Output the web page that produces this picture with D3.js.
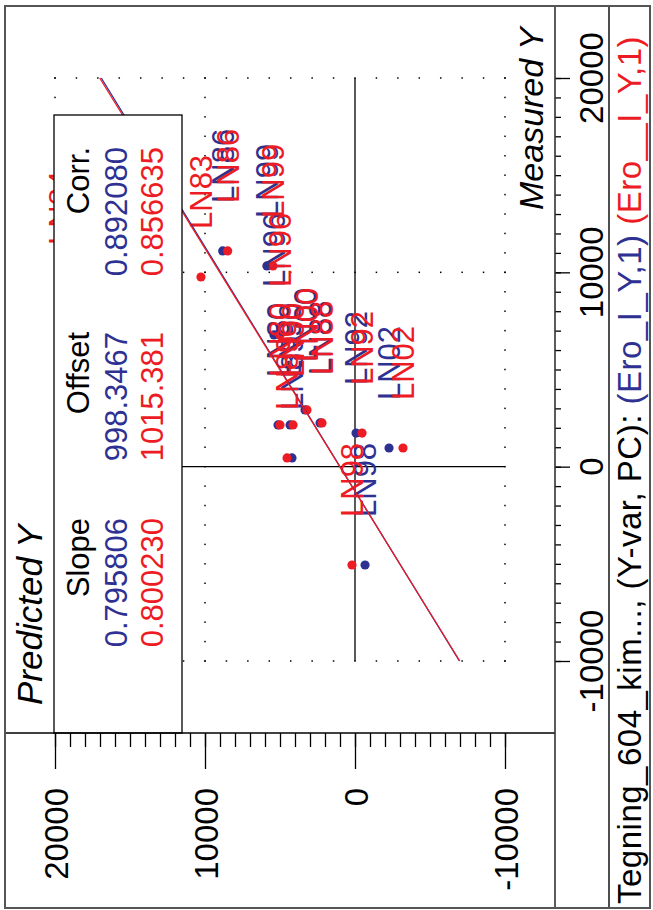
<!DOCTYPE html>
<html><head><meta charset="utf-8">
<script src="https://cdn.jsdelivr.net/npm/d3@7"></script>
<style>body{margin:0;background:#fff}svg{display:block}</style>
</head><body>
<script>
// ---- data ----
const sampleNames = ["LN84","LN83","LN86","LN99","LN96","LN00","LN80","LN90","LN88","LN89","LN92","LN02","LN98"];
const measuredY   = [8940, 9760, 11100, 10330, 6780, 2920, 2150, 2150, 2250, 450, 1730, 960, -5060];
const predBlue    = [18670, 12670, 8820, 5870, 5400, 3330, 5130, 4330, 2330, 4200, -70, -2270, -670];
const predRed     = [19670, 10270, 8490, 5470, 5000, 3200, 5000, 4130, 2200, 4530, -470, -3200, 200];
const seriesNames = ["(Ero_I_Y,1)", "(Ero__I_Y,1)"];
const slopes  = [0.795806, 0.800230];
const offsets = [998.3467, 1015.381];
const corrs   = [0.892080, 0.856635];
const slopeLabels  = ["0.795806", "0.800230"];
const offsetLabels = ["998.3467", "1015.381"];
const corrLabels   = ["0.892080", "0.856635"];
const majorTicks = [20000, 10000, 0, -10000];
const tickLabels = ["20000", "10000", "0", "-10000"];
const titleText = "Tegning_604_kim..., (Y-var, PC): ";

// ---- setup ----
const W = 653, H = 910;
const BLUE = "#2e3192", RED = "#ed1c24";
const FONT = "'Liberation Sans', Arial, Helvetica, sans-serif";
const svg = d3.select("body").append("svg").attr("width", W).attr("height", H)
  .style("font-family", FONT);

// predicted -> screen x (rotated chart), measured -> screen y
const xP = d3.scaleLinear().domain([20000, -10000]).range([55, 505]);
const yM = d3.scaleLinear().domain([20000, -10000]).range([78, 661]);

function rtext(g, x, y, txt, size, fill, anchor, style) {
  return g.append("text")
    .attr("transform", `translate(${x},${y}) rotate(-90)`)
    .attr("text-anchor", anchor || "start")
    .attr("font-size", size)
    .attr("font-style", style || "normal")
    .attr("fill", fill || "#000")
    .text(txt);
}

// ---- grid dots ----
const grid = svg.append("g");
const rowPred = d3.range(0, 22).map(i => 20000 - i * 30000 / 21);
const colMeas = d3.range(-10000, 20001, 1000);
[20000, 10000, -10000].forEach(m => {
  rowPred.forEach(p => grid.append("rect").attr("x", xP(p) - 0.75).attr("y", yM(m) - 0.75)
    .attr("width", 1.5).attr("height", 1.5).attr("fill", "#000"));
});
[20000, 10000, -10000].forEach(p => {
  colMeas.forEach(m => grid.append("rect").attr("x", xP(p) - 0.75).attr("y", yM(m) - 0.75)
    .attr("width", 1.5).attr("height", 1.5).attr("fill", "#000"));
});
// zero lines
grid.append("line").attr("x1", xP(20000)).attr("x2", xP(-10000)).attr("y1", yM(0)).attr("y2", yM(0))
  .attr("stroke", "#000").attr("stroke-width", 1.3);
grid.append("line").attr("x1", xP(0)).attr("x2", xP(0)).attr("y1", yM(20000)).attr("y2", yM(-10000))
  .attr("stroke", "#000").attr("stroke-width", 1.3);

// ---- points ----
const series = [
  {pred: predBlue, color: BLUE},
  {pred: predRed, color: RED}
];
const pts = svg.append("g");
series.forEach(s => {
  sampleNames.forEach((n, i) => {
    pts.append("circle").attr("cx", xP(s.pred[i])).attr("cy", yM(measuredY[i]))
      .attr("r", 4.6).attr("fill", s.color);
  });
});
series.forEach(s => {
  sampleNames.forEach((n, i) => {
    rtext(pts, xP(s.pred[i]) + 11, yM(measuredY[i]) - 48, n, 31, s.color, "start");
  });
});

// ---- regression lines ----
[0, 1].forEach(k => {
  const m0 = -10000, m1 = 20000;
  svg.append("line")
    .attr("x1", xP(slopes[k] * m0 + offsets[k])).attr("y1", yM(m0))
    .attr("x2", xP(slopes[k] * m1 + offsets[k])).attr("y2", yM(m1))
    .attr("stroke", k === 0 ? BLUE : RED).attr("stroke-width", 1.3);
});

// ---- legend box ----
const leg = svg.append("g");
leg.append("rect").attr("x", 54).attr("y", 115).attr("width", 128).attr("height", 618)
  .attr("fill", "#fff").attr("stroke", "#000").attr("stroke-width", 1.3);
const colEnds = [518, 332, 147];
const heads = ["Slope", "Offset", "Corr."];
heads.forEach((h, j) => rtext(leg, 89, colEnds[j], h, 31, "#000", "end"));
[slopeLabels, offsetLabels, corrLabels].forEach((arr, j) => {
  rtext(leg, 127, colEnds[j], arr[0], 31, BLUE, "end");
  rtext(leg, 163, colEnds[j], arr[1], 31, RED, "end");
});

// ---- axes ----
const minorP = d3.range(-10000, 20001, 1000);
const axP = svg.append("g").attr("transform", "translate(0,733)");
axP.call(d3.axisBottom(xP).tickValues(minorP).tickSize(14).tickFormat(""));
axP.call(g => g.select(".domain").remove());
const axP2 = svg.append("g").attr("transform", "translate(0,733)");
axP2.call(d3.axisBottom(xP).tickValues(majorTicks).tickSize(36).tickFormat(""));
axP2.call(g => g.select(".domain").remove());
svg.selectAll(".tick line").attr("stroke-width", 1.3);
majorTicks.forEach((v, i) => rtext(svg, xP(v) + 13, 788, tickLabels[i], 33, "#000", "end"));

const axM = svg.append("g").attr("transform", "translate(555,0)");
axM.call(d3.axisRight(yM).tickValues(minorP).tickSize(6).tickFormat(""));
axM.call(g => g.select(".domain").remove());
const axM2 = svg.append("g").attr("transform", "translate(555,0)");
axM2.call(d3.axisRight(yM).tickValues(majorTicks).tickSize(15).tickFormat(""));
axM2.call(g => g.select(".domain").remove());
svg.selectAll(".tick line").attr("stroke-width", 1.3);
majorTicks.forEach((v, i) => rtext(svg, 603, yM(v), tickLabels[i], 33, "#000", "middle"));

// axis titles
rtext(svg, 42, 705, "Predicted Y", 35, "#000", "start", "italic");
rtext(svg, 543, 210, "Measured Y", 34, "#000", "start", "italic");

// ---- frame lines ----
svg.append("line").attr("x1", 5).attr("x2", 555).attr("y1", 733).attr("y2", 733).attr("stroke", "#000").attr("stroke-width", 1.4);
svg.append("line").attr("x1", 555).attr("x2", 555).attr("y1", 6).attr("y2", 908).attr("stroke", "#333").attr("stroke-width", 1.6);
svg.append("line").attr("x1", 609).attr("x2", 609).attr("y1", 6).attr("y2", 908).attr("stroke", "#222").attr("stroke-width", 1.6);
svg.append("rect").attr("x", 5).attr("y", 6).attr("width", 645).attr("height", 902)
  .attr("fill", "none").attr("stroke", "#555").attr("stroke-width", 2);

// ---- title ----
const t = svg.append("text").attr("transform", "translate(641,904) rotate(-90)")
  .attr("font-size", 33).attr("letter-spacing", 0.5);
t.append("tspan").attr("fill", "#000").text(titleText);
t.append("tspan").attr("fill", BLUE).text(seriesNames[0]);
t.append("tspan").attr("fill", RED).text(" " + seriesNames[1]);
</script>
</body></html>
